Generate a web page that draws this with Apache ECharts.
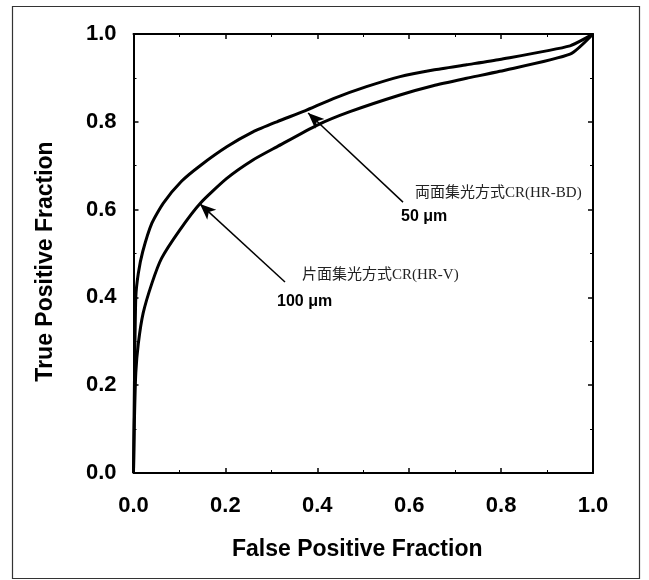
<!DOCTYPE html>
<html>
<head>
<meta charset="utf-8">
<script src="https://cdn.jsdelivr.net/npm/echarts@6/dist/echarts.min.js"></script>
<style>
  html, body { margin: 0; padding: 0; background: #fff; }
  #chart { width: 649px; height: 580px; }
</style>
</head>
<body>
<div id="chart"></div>
<script>
// ROC curves: true positive fraction vs. false positive fraction
const fpfBD = [0, 0.002, 0.005, 0.0105, 0.02, 0.04, 0.065, 0.105, 0.145, 0.203, 0.26, 0.312, 0.373, 0.435, 0.507, 0.58, 0.652, 0.725, 0.797, 0.95, 1.0];
const tpfBD = [0, 0.20, 0.40, 0.455, 0.504, 0.569, 0.615, 0.665, 0.70, 0.743, 0.777, 0.800, 0.825, 0.853, 0.880, 0.903, 0.918, 0.930, 0.942, 0.973, 1.0];

const fpfV = [0, 0.002, 0.005, 0.0105, 0.021, 0.04, 0.061, 0.101, 0.145, 0.203, 0.26, 0.312, 0.399, 0.471, 0.58, 0.652, 0.725, 0.797, 0.95, 1.0];
const tpfV = [0, 0.12, 0.228, 0.295, 0.364, 0.432, 0.489, 0.554, 0.614, 0.671, 0.713, 0.743, 0.792, 0.823, 0.861, 0.882, 0.899, 0.915, 0.954, 1.0];

const seriesNames = ['両面集光方式CR(HR-BD)', '片面集光方式CR(HR-V)'];
const seriesSizes = ['50 μm', '100 μm'];
const tickLabels = ['0.0', '0.2', '0.4', '0.6', '0.8', '1.0'];

const zip = (xs, ys) => xs.map((x, i) => [x, ys[i]]);

const chart = echarts.init(document.getElementById('chart'), null, { renderer: 'canvas' });

const tickFont = { fontFamily: 'Liberation Sans, Arial, sans-serif', fontWeight: 'bold', fontSize: 22, color: '#000' };
const titleFont = { fontFamily: 'Liberation Sans, Arial, sans-serif', fontWeight: 'bold', fontSize: 23, color: '#000' };
const fmt = v => tickLabels[Math.round(v * 5)] ?? '';

const baseAxis = {
  type: 'value', min: 0, max: 1, interval: 0.2,
  axisLine: { show: true, onZero: false, lineStyle: { color: '#000', width: 2 } },
  axisTick: { show: true, inside: true, length: 5, lineStyle: { color: '#000', width: 1.5 } },
  minorTick: { show: true, splitNumber: 2, length: 3, lineStyle: { color: '#000', width: 1 } },
  splitLine: { show: false },
  minorSplitLine: { show: false }
};

// callout arrows from the annotation text to each curve
const arrowBD = [{ coord: [0.5865, 0.617] }, { coord: [0.380, 0.820] }];
const arrowV = [{ coord: [0.3297, 0.435] }, { coord: [0.1447, 0.613] }];

const cjkFont = 'Liberation Serif, "Noto Sans CJK JP", serif';

chart.setOption({
  animation: false,
  backgroundColor: '#fff',
  grid: { left: 133.5, right: 56, top: 34, bottom: 107, containLabel: false },
  xAxis: [
    Object.assign({}, baseAxis, {
      position: 'bottom',
      name: 'False Positive Fraction', nameLocation: 'middle', nameGap: 65,
      nameTextStyle: Object.assign({ padding: [0, 12, 0, 0] }, titleFont),
      axisLabel: Object.assign({ margin: 22, formatter: fmt }, tickFont)
    }),
    Object.assign({}, baseAxis, { position: 'top', axisLabel: { show: false } })
  ],
  yAxis: [
    Object.assign({}, baseAxis, {
      position: 'left',
      name: 'True Positive Fraction', nameLocation: 'middle', nameGap: 76,
      nameTextStyle: Object.assign({ padding: [0, 16, 0, 0] }, titleFont),
      axisLabel: Object.assign({ margin: 17, formatter: fmt }, tickFont)
    }),
    Object.assign({}, baseAxis, { position: 'right', axisLabel: { show: false } })
  ],
  series: [
    {
      name: seriesNames[0], type: 'line', xAxisIndex: 0, yAxisIndex: 0,
      data: zip(fpfBD, tpfBD), showSymbol: false, smooth: 0.2,
      lineStyle: { color: '#000', width: 3 },
      markLine: {
        silent: true, symbol: ['none', 'arrow'], symbolSize: [10, 16],
        lineStyle: { color: '#000', width: 1.5, type: 'solid' },
        label: { show: false },
        data: [arrowBD]
      }
    },
    {
      name: seriesNames[1], type: 'line', xAxisIndex: 0, yAxisIndex: 0,
      data: zip(fpfV, tpfV), showSymbol: false, smooth: 0.2,
      lineStyle: { color: '#000', width: 3 },
      markLine: {
        silent: true, symbol: ['none', 'arrow'], symbolSize: [10, 16],
        lineStyle: { color: '#000', width: 1.5, type: 'solid' },
        label: { show: false },
        data: [arrowV]
      }
    }
  ],
  graphic: [
    {
      type: 'rect', silent: true, z: -1,
      shape: { x: 12.5, y: 6.5, width: 627, height: 572 },
      style: { fill: 'none', stroke: '#333', lineWidth: 1.2 }
    },
    { type: 'text', left: 415, top: 186, style: { text: seriesNames[0], font: '15px ' + cjkFont, fill: '#222' } },
    { type: 'text', left: 401, top: 209, style: { text: seriesSizes[0], font: 'bold 16px Liberation Sans, Arial, sans-serif', fill: '#000' } },
    { type: 'text', left: 302, top: 268, style: { text: seriesNames[1], font: '15px ' + cjkFont, fill: '#222' } },
    { type: 'text', left: 277, top: 294, style: { text: seriesSizes[1], font: 'bold 16px Liberation Sans, Arial, sans-serif', fill: '#000' } }
  ]
});
</script>
</body>
</html>
